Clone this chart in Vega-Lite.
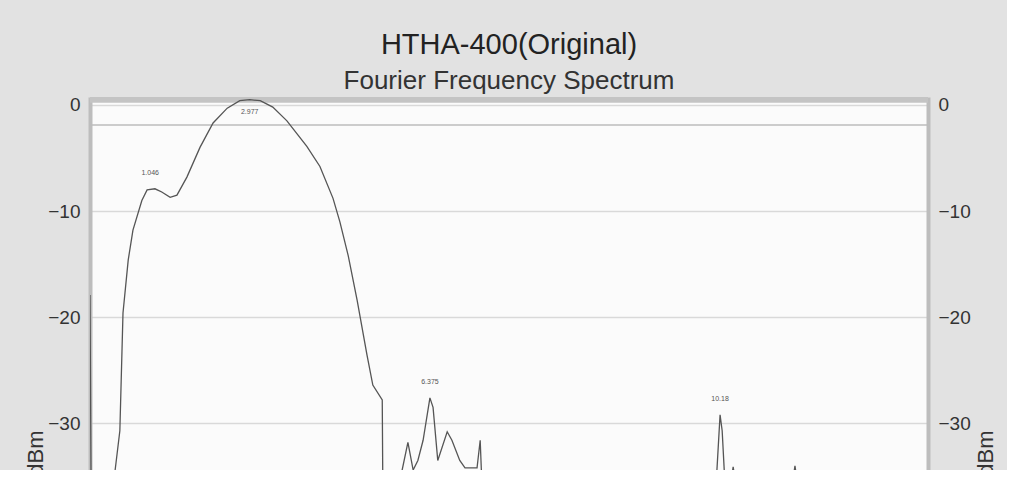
{
  "$schema": "https://vega.github.io/schema/vega-lite/v6.json",
  "autosize": {"type": "none"},
  "width": 838,
  "height": 373,
  "padding": {"left": 90, "top": 97, "right": 79, "bottom": 0},
  "background": "#e2e2e2",
  "title": {
    "text": "HTHA-400(Original)",
    "subtitle": "Fourier Frequency Spectrum",
    "anchor": "middle",
    "font": "Liberation Sans",
    "fontSize": 29,
    "fontWeight": "normal",
    "color": "#222222",
    "subtitleFont": "Liberation Sans",
    "subtitleFontSize": 26,
    "subtitleColor": "#333333",
    "subtitlePadding": 8,
    "offset": 2
  },
  "config": {
    "view": {"fill": "#fbfbfb", "stroke": null},
    "font": "Liberation Sans"
  },
  "datasets": {
    "spectrum": [
      {"f": 0.0, "a": -17.9},
      {"f": 0.02, "a": -35.4},
      {"f": 0.34, "a": -35.4},
      {"f": 0.48, "a": -34.4},
      {"f": 0.57, "a": -30.7},
      {"f": 0.63, "a": -19.6},
      {"f": 0.73, "a": -14.6},
      {"f": 0.82, "a": -11.8},
      {"f": 0.99, "a": -9.0},
      {"f": 1.09, "a": -8.0},
      {"f": 1.24, "a": -7.9},
      {"f": 1.37, "a": -8.2},
      {"f": 1.53, "a": -8.7},
      {"f": 1.66, "a": -8.5},
      {"f": 1.85, "a": -6.8},
      {"f": 2.1, "a": -4.0},
      {"f": 2.35, "a": -1.7},
      {"f": 2.62, "a": -0.3},
      {"f": 2.86, "a": 0.4},
      {"f": 3.05, "a": 0.5},
      {"f": 3.25, "a": 0.4},
      {"f": 3.49, "a": -0.2},
      {"f": 3.76, "a": -1.5},
      {"f": 4.14, "a": -3.9},
      {"f": 4.39, "a": -5.8},
      {"f": 4.64, "a": -8.8},
      {"f": 4.77, "a": -11.0},
      {"f": 4.93, "a": -14.2},
      {"f": 5.1, "a": -18.4},
      {"f": 5.29, "a": -23.6},
      {"f": 5.4, "a": -26.4},
      {"f": 5.58, "a": -27.8},
      {"f": 5.59, "a": -35.4},
      {"f": 5.92, "a": -35.4},
      {"f": 5.96, "a": -34.4},
      {"f": 6.07, "a": -31.8},
      {"f": 6.17, "a": -34.4},
      {"f": 6.26, "a": -33.5},
      {"f": 6.36, "a": -31.6},
      {"f": 6.49, "a": -27.6},
      {"f": 6.55, "a": -28.5},
      {"f": 6.64, "a": -33.5},
      {"f": 6.82, "a": -30.8},
      {"f": 6.91, "a": -31.6},
      {"f": 7.06, "a": -33.5},
      {"f": 7.16, "a": -34.2},
      {"f": 7.39, "a": -34.2},
      {"f": 7.45, "a": -31.6},
      {"f": 7.48, "a": -35.4},
      {"f": 11.93, "a": -35.4},
      {"f": 11.97, "a": -34.4},
      {"f": 12.03, "a": -29.2},
      {"f": 12.07, "a": -30.7},
      {"f": 12.12, "a": -35.4},
      {"f": 12.24, "a": -35.4},
      {"f": 12.28, "a": -34.1},
      {"f": 12.32, "a": -35.4},
      {"f": 13.42, "a": -35.4},
      {"f": 13.46, "a": -34.0},
      {"f": 13.5, "a": -35.4},
      {"f": 16.0, "a": -35.4}
    ],
    "peaks": [
      {"f": 1.15, "a": -7.9, "label": "1.046"},
      {"f": 3.05, "a": 0.5, "label": "2.977"},
      {"f": 6.49, "a": -27.6, "label": "6.375"},
      {"f": 12.03, "a": -29.2, "label": "10.18"}
    ]
  },
  "layer": [
    {
      "data": {"values": [{"band": "scroll"}]},
      "mark": {"type": "rect", "fill": "#c4c4c4"},
      "encoding": {
        "x": {"datum": 0, "type": "quantitative", "scale": {"domain": [0, 16], "nice": false}, "axis": null},
        "x2": {"datum": 16},
        "y": {"datum": 0.75, "type": "quantitative", "scale": {"domain": [-34.4, 0.75], "nice": false}, "axis": null},
        "y2": {"datum": 0.2}
      }
    },
    {
      "data": {"values": [{"band": "limit"}]},
      "mark": {"type": "rule", "stroke": "#bdbdbd", "strokeWidth": 1.5},
      "encoding": {
        "y": {"datum": -1.9, "type": "quantitative", "axis": null}
      }
    },
    {
      "data": {"name": "spectrum"},
      "mark": {"type": "line", "stroke": "#555555", "strokeWidth": 1.3, "clip": true},
      "encoding": {
        "x": {
          "field": "f",
          "type": "quantitative",
          "scale": {"domain": [0, 16], "nice": false},
          "axis": {
            "values": [0, 2, 4, 6, 8, 10, 12, 14, 16],
            "labels": false,
            "ticks": false,
            "domain": false,
            "grid": true,
            "gridColor": "#d9d9d9",
            "gridWidth": 1.5,
            "title": null
          }
        },
        "y": {
          "field": "a",
          "type": "quantitative",
          "scale": {"domain": [-34.4, 0.75], "nice": false},
          "axis": {
            "orient": "left",
            "values": [0, -10, -20, -30],
            "grid": true,
            "gridColor": "#d9d9d9",
            "gridWidth": 1.5,
            "ticks": false,
            "domainColor": "#bdbdbd",
            "domainWidth": 4,
            "labelFont": "Liberation Sans",
            "labelFontSize": 19,
            "labelColor": "#333333",
            "labelPadding": 10,
            "title": "Amplitude dBm",
            "titleFont": "Liberation Sans",
            "titleFontSize": 22,
            "titleFontWeight": "normal",
            "titleColor": "#333333",
            "titleAngle": -90,
            "titleAlign": "right",
            "titleBaseline": "middle",
            "titleX": -55,
            "titleY": 333
          }
        }
      }
    },
    {
      "data": {"name": "peaks"},
      "transform": [{"filter": "datum.a < 0"}],
      "mark": {"type": "text", "fontSize": 7, "fill": "#555555", "dy": -16, "font": "Liberation Sans"},
      "encoding": {
        "x": {"field": "f", "type": "quantitative"},
        "y": {
          "field": "a",
          "type": "quantitative",
          "axis": {
            "orient": "right",
            "values": [0, -10, -20, -30],
            "grid": false,
            "ticks": false,
            "domainColor": "#bdbdbd",
            "domainWidth": 4,
            "labelFont": "Liberation Sans",
            "labelFontSize": 19,
            "labelColor": "#333333",
            "labelPadding": 10,
            "title": "Amplitude dBm",
            "titleFont": "Liberation Sans",
            "titleFontSize": 22,
            "titleFontWeight": "normal",
            "titleColor": "#333333",
            "titleAngle": -90,
            "titleAlign": "right",
            "titleBaseline": "middle",
            "titleX": 57,
            "titleY": 333
          }
        },
        "text": {"field": "label", "type": "nominal"}
      }
    },
    {
      "data": {"name": "peaks"},
      "transform": [{"filter": "datum.a >= 0"}],
      "mark": {"type": "text", "fontSize": 7, "fill": "#555555", "dy": 12, "font": "Liberation Sans"},
      "encoding": {
        "x": {"field": "f", "type": "quantitative"},
        "y": {"field": "a", "type": "quantitative", "axis": null},
        "text": {"field": "label", "type": "nominal"}
      }
    }
  ],
  "resolve": {"scale": {"y": "shared"}, "axis": {"y": "independent"}}
}
